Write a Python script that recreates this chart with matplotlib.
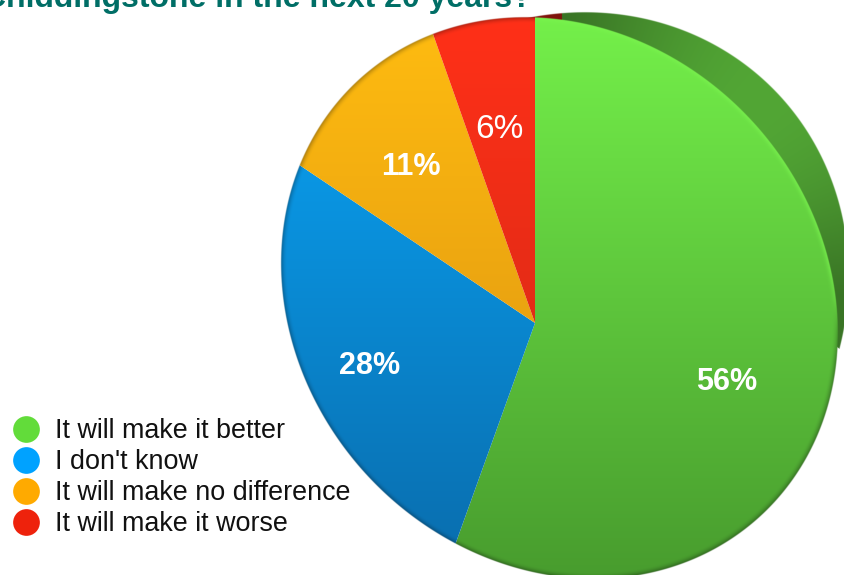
import numpy as np
import matplotlib
matplotlib.use("Agg")
import matplotlib.pyplot as plt

categories = ["It will make it better", "I don't know", "It will make no difference", "It will make it worse"]
values = [55.5, 28.9, 10.2, 5.4]
labels = ["56%", "28%", "11%", "6%"]
legend_colors = ["#62DC3A", "#00A2FF", "#FFAA00", "#EE220C"]
top_colors = ["#74F04A", "#0AA6F8", "#FFBC10", "#FF3018"]
bottom_colors = ["#489C2E", "#0A6CAC", "#D88E10", "#CC2814"]
title = "Chiddingstone in the next 20 years?"

W, H = 845, 575
plt.rcParams['font.family'] = ['Liberation Sans', 'DejaVu Sans']
fig = plt.figure(figsize=(W / 100, H / 100), dpi=100)
ax = fig.add_axes([0, 0, 1, 1])

def Y(py):
    return H - py

# layout
apex = (535, Y(323))
face_c = (559.5, Y(298)); face_a, face_b, face_ang = 297, 262, np.deg2rad(133)
rim_c = (563, Y(298)); rim_a, rim_b, rim_ang = 297, 275, np.deg2rad(45)

ss = 3
xs = (np.arange(W * ss) + .5) / ss
ys = (np.arange(H * ss) + .5) / ss
X, YY = np.meshgrid(xs, ys)   # YY is y-up in data space

def ell_dist(c, a, b, ang):
    dx, dy = X - c[0], YY - c[1]
    u = dx * np.cos(ang) + dy * np.sin(ang)
    v = -dx * np.sin(ang) + dy * np.cos(ang)
    return np.sqrt((u / a) ** 2 + (v / b) ** 2)

def hexrgb(h):
    return np.array(matplotlib.colors.to_rgb(h))

extent = (0, W, 0, H)
ext_kw = dict(extent=extent, origin='lower', interpolation='antialiased', aspect='auto')

# side rim behind the face: only above the chord joining its two ends, tapered at the right end
d_rim = ell_dist(rim_c, rim_a, rim_b, rim_ang)
d_face = ell_dist(face_c, face_a, face_b, face_ang)
x0, y0, x1, y1 = 434, Y(38), 841, Y(350)
side = (x1 - x0) * (YY - y0) - (y1 - y0) * (X - x0)
taper = (X - 838) * (Y(333) - Y(355)) - (YY - Y(355)) * (846 - 838)
alpha = np.clip((1 - d_rim) * 300, 0, 1) * (side > 0) * (taper < 0)
ang = np.arctan2(YY - rim_c[1], X - rim_c[0])
shade = 0.70 + 0.30 * np.clip(np.sin(2 * ang), 0, 1) ** 1.2
rim = np.dstack([0x52 / 255 * shade, 0xA6 / 255 * shade, 0x35 / 255 * shade, alpha])
red_part = X < 562
rim[red_part, 0] = 0.50
rim[red_part, 1] = 0.08
rim[red_part, 2] = 0.05
ax.imshow(rim, zorder=1, **ext_kw)

# face slices
wedges, _ = ax.pie(values, startangle=90, counterclock=False, center=apex, radius=800,
                   colors=['none'] * 4, wedgeprops=dict(linewidth=0), frame=True)
face_alpha = np.clip((1 - d_face) * 300, 0, 1)
y_t = np.clip((Y(18) - YY) / (Y(18) - Y(578)), 0, 1)
edge_dark = np.clip((d_face - 0.975) / 0.025, 0, 1) ** 2
for i, w in enumerate(wedges):
    c0, c1 = hexrgb(top_colors[i]), hexrgb(bottom_colors[i])
    rgb = c0[None, None, :] * (1 - y_t[..., None]) + c1[None, None, :] * y_t[..., None]
    if i == 0:
        # bright bevel on the green edge, towards the upper right
        glow = edge_dark * np.clip((YY - Y(330)) / 60, 0, 1)
        rgb = rgb + (hexrgb("#7CF550")[None, None, :] - rgb) * glow[..., None] * 0.9
        low = edge_dark * np.clip((Y(300) - YY) / 60, 0, 1)
        rgb = rgb * (1 - 0.4 * low[..., None])
    else:
        rgb = rgb * (1 - 0.35 * edge_dark[..., None])
    img = ax.imshow(np.dstack([rgb, face_alpha]), zorder=2, **ext_kw)
    img.set_clip_path(w)

# value labels
label_pos = [(727, 382), (370, 366), (411, 167), (499, 130)]
label_size = [22, 22, 22, 24]
label_weight = ['bold', 'bold', 'bold', 'normal']
for lab, (px, py), s, wt in zip(labels, label_pos, label_size, label_weight):
    ax.text(px, Y(py), lab, color='white', fontsize=s, fontweight=wt, ha='center', va='center', zorder=5)

# legend
leg_y = [429, 460, 491, 522]
for name, col, py in zip(categories, legend_colors, leg_y):
    ax.scatter([26], [Y(py)], s=370, color=col, linewidths=0, zorder=5)
    ax.text(55, Y(py + 2), name, color='#111111', fontsize=19.4, va='center', ha='left', zorder=5)

# title, cut by the top edge
ax.text(-17, Y(7), title, color='#006E66', fontsize=23, fontweight='bold', ha='left', va='baseline', zorder=5)

ax.set_xlim(0, W)
ax.set_ylim(0, H)
ax.set_aspect('auto')
ax.axis('off')
fig.savefig("out.png", dpi=100)
